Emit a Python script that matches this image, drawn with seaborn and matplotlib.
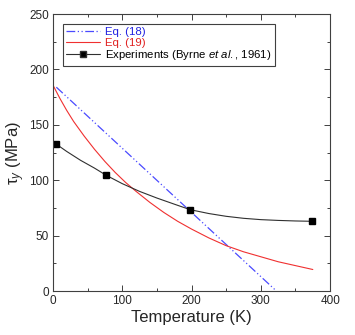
import matplotlib
matplotlib.use("Agg")
from matplotlib import pyplot as plt
from matplotlib.ticker import MultipleLocator
from matplotlib.lines import Line2D
import seaborn as sns

# Eq. (18): straight line
eq18_T = [5, 320]
eq18_tau = [184, 1.5]

# Eq. (19): curve
eq19_T = [0, 10, 20, 30, 45, 60, 75, 90, 105, 120, 140, 160, 180, 200,
          225, 250, 275, 300, 325, 350, 375]
eq19_tau = [186, 174, 163, 153, 140, 128, 117, 107, 98, 90, 80, 71, 63, 56,
            48, 41, 35.5, 31, 26.5, 23, 19.5]

# Experiments (Byrne et al., 1961)
exp_T = [4, 77, 198, 374]
exp_tau = [133, 104.5, 73.5, 63]
# smooth guide line through the experiments
guide_T = [4, 20, 40, 60, 77, 100, 125, 150, 175, 198, 225, 250, 275, 300,
           325, 350, 374]
guide_tau = [133, 126, 118, 111, 104.5, 97, 90, 84, 78.5, 73.5, 70, 67.5,
             65.7, 64.5, 63.8, 63.3, 63]

sns.set_style("ticks")
plt.rcParams['font.family'] = ['Liberation Sans', 'DejaVu Sans']
plt.rcParams['mathtext.fontset'] = 'custom'
plt.rcParams['mathtext.rm'] = 'Liberation Sans'
plt.rcParams['mathtext.it'] = 'Liberation Sans:italic'

fig = plt.figure(figsize=(3.55, 3.35), dpi=100)
ax = fig.add_axes([0.149, 0.131, 0.781, 0.827])

sns.lineplot(x=eq18_T, y=eq18_tau, ax=ax, color='#4a4aff', linewidth=0.9,
             label='Eq. (18)')
ax.lines[-1].set_dashes([7, 2, 1, 2, 1, 2])
sns.lineplot(x=eq19_T, y=eq19_tau, ax=ax, color='#f03030', linewidth=0.8,
             label='Eq. (19)')
sns.lineplot(x=guide_T, y=guide_tau, ax=ax, color='#303030', linewidth=0.8)
ax.plot(exp_T, exp_tau, linestyle='none', marker='s', markersize=5,
        color='black')

handles = [ax.lines[0], ax.lines[1],
           Line2D([], [], color='#303030', linewidth=0.8, marker='s',
                  markersize=4, markerfacecolor='black')]
labels = ['Eq. (18)', 'Eq. (19)', r'Experiments (Byrne $\it{et\ al.}$, 1961)']
leg = ax.legend(handles, labels, loc='upper left', bbox_to_anchor=(0.035, 0.965),
                fontsize=8.2, frameon=True, fancybox=False, edgecolor='#404040',
                framealpha=1, handlelength=3.0, handletextpad=0.4,
                borderpad=0.3, labelspacing=0.05, borderaxespad=0)
leg.get_frame().set_linewidth(0.8)
for txt, c in zip(leg.get_texts(), ['#2020e0', '#e02020', 'black']):
    txt.set_color(c)

ax.set_xlim(0, 400)
ax.set_ylim(0, 250)
ax.xaxis.set_major_locator(MultipleLocator(100))
ax.xaxis.set_minor_locator(MultipleLocator(50))
ax.yaxis.set_major_locator(MultipleLocator(50))
ax.yaxis.set_minor_locator(MultipleLocator(25))
ax.tick_params(which='both', direction='in', top=True, right=True,
               labelsize=8.5, color='#404040', width=0.7, pad=3)
ax.tick_params(which='major', length=4)
ax.tick_params(which='minor', length=2.5)
for s in ax.spines.values():
    s.set_linewidth(0.8)
    s.set_color('#404040')

ax.set_xlabel('Temperature (K)', fontsize=12, labelpad=2)
ax.set_ylabel(r'$\mathregular{\tau_{\it{y}}}$ (MPa)', fontsize=12, labelpad=1)

fig.savefig('out.png', dpi=100)
